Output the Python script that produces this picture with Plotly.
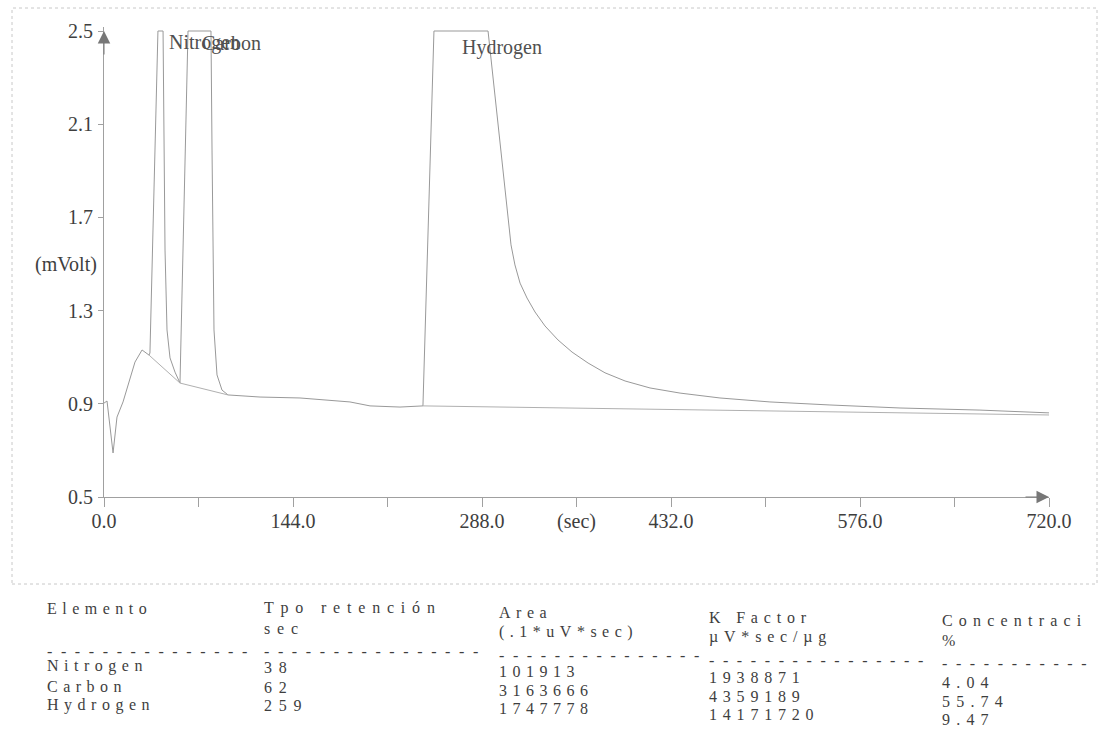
import plotly.graph_objects as go

# ---------------- data ----------------
time_s = [0, 2.3, 6.9, 9.9, 14.5, 18.3, 23.6, 29.0, 34.3, 35.0, 41.1, 45.0, 46.5, 48.0, 50.3,
          54.1, 57.9, 64.0, 81.5, 82.3, 83.8, 86.1, 89.9, 94.5, 118.9, 149.3, 187.4, 202.7,
          225.5, 243.0, 251.4, 292.6, 307.8, 310.1, 313.1, 317.0, 322.3, 328.4, 336.0, 345.9,
          356.6, 368.8, 381.7, 397.0, 416.0, 438.9, 469.3, 507.4, 553.1, 606.5, 667.4, 720]
signal_mv = [0.903, 0.912, 0.689, 0.843, 0.908, 0.981, 1.079, 1.131, 1.109, 1.118, 2.5, 2.5,
             1.56, 1.217, 1.097, 1.036, 0.989, 2.5, 2.5, 1.989, 1.217, 1.024, 0.959, 0.938,
             0.929, 0.925, 0.908, 0.891, 0.886, 0.891, 2.5, 2.5, 1.689, 1.582, 1.496, 1.418,
             1.354, 1.294, 1.234, 1.174, 1.122, 1.075, 1.033, 0.998, 0.968, 0.946, 0.925,
             0.908, 0.895, 0.882, 0.873, 0.861]

# integration baselines (start/end of each peak)
base_n_t = [34.3, 57.9]
base_n_v = [1.109, 0.989]
base_c_t = [57.9, 94.5]
base_c_v = [0.989, 0.938]
base_h_t = [243.0, 720]
base_h_v = [0.891, 0.852]

peak_names = ["Nitrogen", "Carbon", "Hydrogen"]
peak_label_t = [48.0, 73.0, 271.2]
peak_label_v = [2.449, 2.449, 2.431]

x_tickvals = [0, 72, 144, 216, 288, 360, 432, 504, 576, 648, 720]
x_ticktext = ["0.0", "", "144.0", "", "288.0", "(sec)", "432.0", "", "576.0", "", "720.0"]
y_tickvals = [0.5, 0.9, 1.3, 1.7, 2.1, 2.5]
y_ticktext = ["0.5", "0.9", "1.3", "1.7", "2.1", "2.5"]

# results table
elements = ["Nitrogen", "Carbon", "Hydrogen"]
ret_time = [38, 62, 259]
area = [101913, 3163666, 1747778]
k_factor = [1938871, 4359189, 14171720]
concentration = [4.04, 55.74, 9.47]
headers_1 = ["Elemento", "Tpo retención", "Area", "K Factor", "Concentraci"]
headers_2 = ["", "sec", "(.1*uV*sec)", "µV*sec/µg", "%"]
dash_counts = [15, 16, 15, 16, 11]

# ---------------- layout geometry ----------------
W, H = 1104, 729
L, R_EDGE, T, B_EDGE = 104, 1049, 27, 497
Y_TOP = 2.5 + 4 / 233.0


def px_x(p):
    return (p - L) / (R_EDGE - L)


def px_y(p):
    return (B_EDGE - p) / (B_EDGE - T)


LINE = "#999999"
TEXT = "#3e3e3e"
SERIF = "Liberation Serif, Times New Roman, serif"

fig = go.Figure()
fig.add_trace(go.Scatter(x=time_s, y=signal_mv, mode="lines",
                         line=dict(color=LINE, width=1), hoverinfo="skip"))
for bt, bv in [(base_n_t, base_n_v), (base_c_t, base_c_v), (base_h_t, base_h_v)]:
    fig.add_trace(go.Scatter(x=bt, y=bv, mode="lines",
                             line=dict(color="#b0b0b0", width=1), hoverinfo="skip"))

annotations = []
for name, t, v in zip(peak_names, peak_label_t, peak_label_v):
    annotations.append(dict(x=t, y=v, xref="x", yref="y", text=name, showarrow=False,
                            xanchor="left", yanchor="middle",
                            font=dict(family=SERIF, size=20, color="#505050")))

# axis arrow heads
annotations.append(dict(x=720, y=0.5, xref="x", yref="y", ax=-25, ay=0, text="",
                        showarrow=True, arrowhead=2, arrowsize=2.5, arrowwidth=1,
                        arrowcolor="#777777", standoff=0))
annotations.append(dict(x=0, y=2.5, xref="x", yref="y", ax=0, ay=25, text="",
                        showarrow=True, arrowhead=2, arrowsize=2.5, arrowwidth=1,
                        arrowcolor="#777777", standoff=0))

# y axis title
annotations.append(dict(x=px_x(66), y=px_y(264), xref="paper", yref="paper", text="(mVolt)",
                        showarrow=False, xanchor="center", yanchor="middle",
                        font=dict(family=SERIF, size=20, color=TEXT)))

# table
col_x = [45, 262, 497, 707, 940]
h1_y = [608, 608, 612, 617, 620]
h2_y = [628, 628, 632, 637, 640]
dash_y = [651, 651, 655, 660, 663]
row_y = [[666, 686, 705], [667, 687, 705], [671, 690, 708], [677, 696, 714], [682, 701, 719]]
col_spacing = [5.5, 6.8, 5.5, 5.8, 6.2]

columns = [
    [str(e) for e in elements],
    [str(v) for v in ret_time],
    [str(v) for v in area],
    [str(v) for v in k_factor],
    ["%.2f" % v for v in concentration],
]


def spaced(s, sp=5.5):
    return '<span style="letter-spacing:%.1fpx">%s</span>' % (sp, s)


TFONT = dict(family=SERIF, size=16, color=TEXT)
for i in range(5):
    sp = col_spacing[i]
    annotations.append(dict(x=px_x(col_x[i]), y=px_y(h1_y[i]), xref="paper", yref="paper",
                            text=spaced(headers_1[i], sp), showarrow=False, xanchor="left",
                            yanchor="middle", font=TFONT))
    if headers_2[i]:
        annotations.append(dict(x=px_x(col_x[i]), y=px_y(h2_y[i]), xref="paper", yref="paper",
                                text=spaced(headers_2[i], sp), showarrow=False, xanchor="left",
                                yanchor="middle", font=TFONT))
    annotations.append(dict(x=px_x(col_x[i]), y=px_y(dash_y[i]), xref="paper", yref="paper",
                            text=spaced("-" * dash_counts[i], 8.6), showarrow=False,
                            xanchor="left", yanchor="middle", font=TFONT))
    for r in range(3):
        annotations.append(dict(x=px_x(col_x[i]), y=px_y(row_y[i][r]), xref="paper",
                                yref="paper", text=spaced(columns[i][r], sp), showarrow=False,
                                xanchor="left", yanchor="middle", font=TFONT))

shapes = [dict(type="rect", xref="paper", yref="paper",
               x0=px_x(12), x1=px_x(1097), y0=px_y(584), y1=px_y(8),
               line=dict(color="#c8c8c8", width=1, dash="dot"))]

fig.update_layout(
    width=W, height=H,
    margin=dict(l=L, r=W - R_EDGE, t=T, b=H - B_EDGE, pad=0),
    paper_bgcolor="white", plot_bgcolor="white",
    showlegend=False,
    annotations=annotations,
    shapes=shapes,
    xaxis=dict(range=[0, 720], tickvals=x_tickvals, ticktext=x_ticktext,
               showline=True, linecolor="#a0a0a0", linewidth=1,
               ticks="outside", ticklen=9, tickcolor="#a0a0a0", tickwidth=1,
               showgrid=False, zeroline=False, ticklabelstandoff=-3,
               tickfont=dict(family=SERIF, size=20, color=TEXT)),
    yaxis=dict(range=[0.5, Y_TOP], tickvals=y_tickvals, ticktext=y_ticktext,
               showline=True, linecolor="#a0a0a0", linewidth=1,
               ticks="outside", ticklen=5, tickcolor="#a0a0a0", tickwidth=1,
               showgrid=False, zeroline=False, ticklabelstandoff=1,
               tickfont=dict(family=SERIF, size=20, color=TEXT)),
)

fig.write_html("out.html")
